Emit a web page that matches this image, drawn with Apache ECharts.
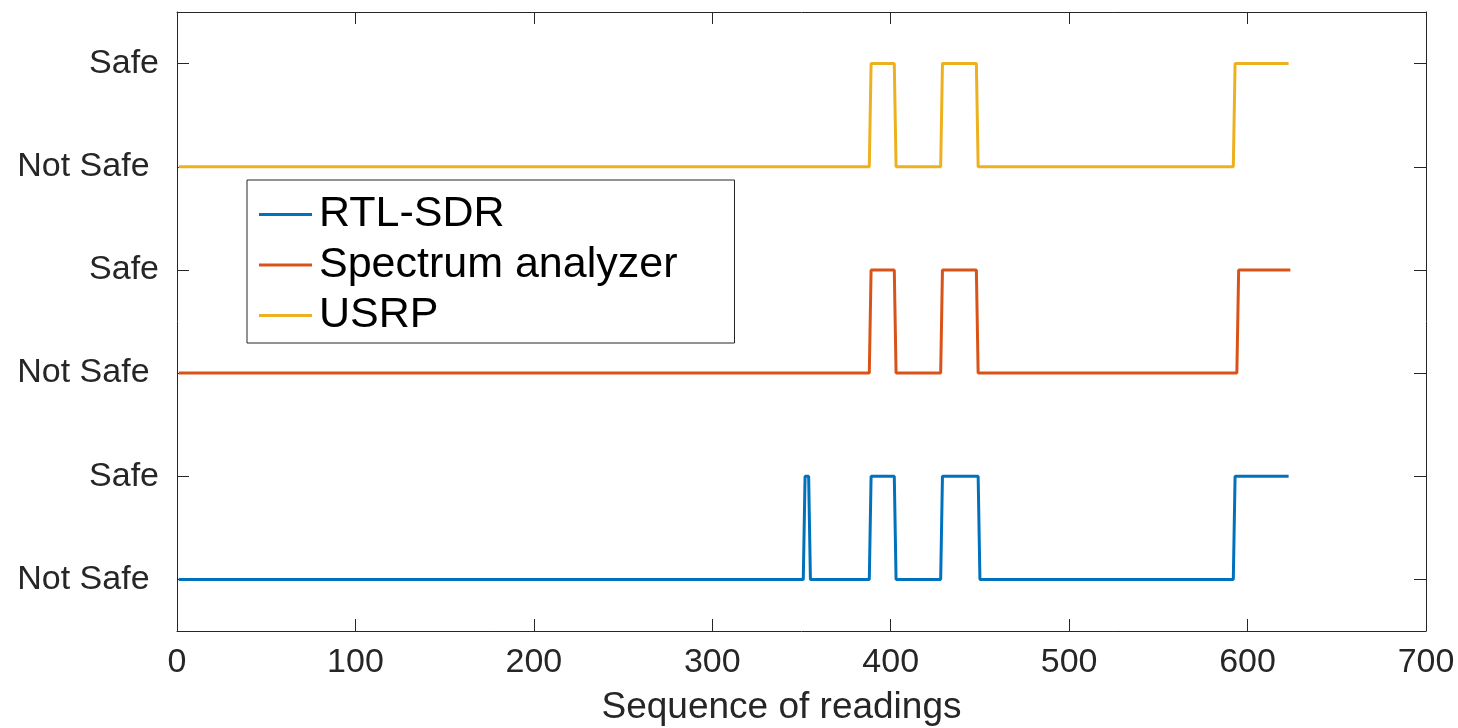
<!DOCTYPE html>
<html>
<head>
<meta charset="utf-8">
<script src="https://cdn.jsdelivr.net/npm/echarts@6/dist/echarts.min.js"></script>
<style>
  html, body { margin: 0; padding: 0; background: #fff; }
  #chart { width: 1458px; height: 728px; }
</style>
</head>
<body>
<div id="chart"></div>
<script>
// plotted levels: RTL-SDR 0/1, Spectrum analyzer 2/3, USRP 4/5
const seriesNames = ['RTL-SDR', 'Spectrum analyzer', 'USRP']
const rtlSdr = [[1, 0], [351, 0], [352, 1], [354, 1], [355, 0], [388, 0], [389, 1], [402, 1], [403, 0],
  [428, 0], [429, 1], [449, 1], [450, 0], [592, 0], [593, 1], [623, 1]]
const spectrum = [[1, 2], [388, 2], [389, 3], [402, 3], [403, 2], [428, 2], [429, 3], [448, 3], [449, 2],
  [594, 2], [595, 3], [624, 3]]
const usrp = [[1, 4], [388, 4], [389, 5], [402, 5], [403, 4], [428, 4], [429, 5], [448, 5], [449, 4],
  [592, 4], [593, 5], [623, 5]]
const yTickValues = [0, 1, 2, 3, 4, 5]
const yTickLabels = ['Not Safe ', 'Safe', 'Not Safe ', 'Safe', 'Not Safe ', 'Safe']
const colors = ['#0072BD', '#D95319', '#EDB120']

const chart = echarts.init(document.getElementById('chart'))

const axisColor = '#262626'
const font = 'Liberation Sans, Arial, sans-serif'

function xAxisOf(position, showLabel) {
  return {
    type: 'value',
    position: position,
    min: 0,
    max: 700,
    interval: 100,
    name: showLabel ? 'Sequence of readings' : '',
    nameLocation: 'middle',
    nameGap: 58,
    nameTextStyle: { fontSize: 37, color: axisColor, fontFamily: font, padding: [0, 40, 0, 0] },
    axisLine: { show: true, onZero: false, lineStyle: { color: axisColor, width: 1 } },
    axisTick: { show: true, inside: true, length: 12, lineStyle: { color: axisColor } },
    axisLabel: { show: showLabel, fontSize: 34, color: axisColor, fontFamily: font, margin: 15 },
    splitLine: { show: false }
  }
}

function yAxisOf(position, showLabel) {
  return {
    type: 'value',
    position: position,
    min: -0.5,
    max: 5.5,
    axisLine: { show: true, onZero: false, lineStyle: { color: axisColor, width: 1 } },
    axisTick: { show: true, inside: true, length: 12, customValues: yTickValues, lineStyle: { color: axisColor } },
    axisLabel: {
      show: showLabel,
      customValues: yTickValues,
      formatter: v => yTickLabels[Math.round(v)],
      fontSize: 34,
      color: axisColor,
      fontFamily: font,
      margin: 18,
      padding: [8, 0, 0, 0]
    },
    splitLine: { show: false }
  }
}

const datasets = [rtlSdr, spectrum, usrp]

const option = {
  animation: false,
  backgroundColor: '#fff',
  grid: { left: 177, right: 32, top: 12, bottom: 97, containLabel: false, outerBoundsMode: 'none' },
  xAxis: [xAxisOf('bottom', true), xAxisOf('top', false)],
  yAxis: [yAxisOf('left', true), yAxisOf('right', false)],
  legend: {
    orient: 'vertical',
    left: 247,
    top: 180,
    padding: [13, 57, 6, 12],
    itemGap: 7.5,
    itemWidth: 53,
    itemHeight: 3,
    icon: 'rect',
    borderColor: axisColor,
    borderWidth: 1,
    backgroundColor: '#fff',
    textStyle: { fontSize: 43, color: '#000', fontFamily: font, padding: [0, 0, 0, 2] },
    data: seriesNames
  },
  series: seriesNames.map((name, i) => ({
    name: name,
    type: 'line',
    data: datasets[i],
    symbol: 'none',
    color: colors[i],
    lineStyle: { width: 3, color: colors[i] },
    z: 2 + i
  }))
}

chart.setOption(option)
window.addEventListener('resize', () => chart.resize())
</script>
</body>
</html>
